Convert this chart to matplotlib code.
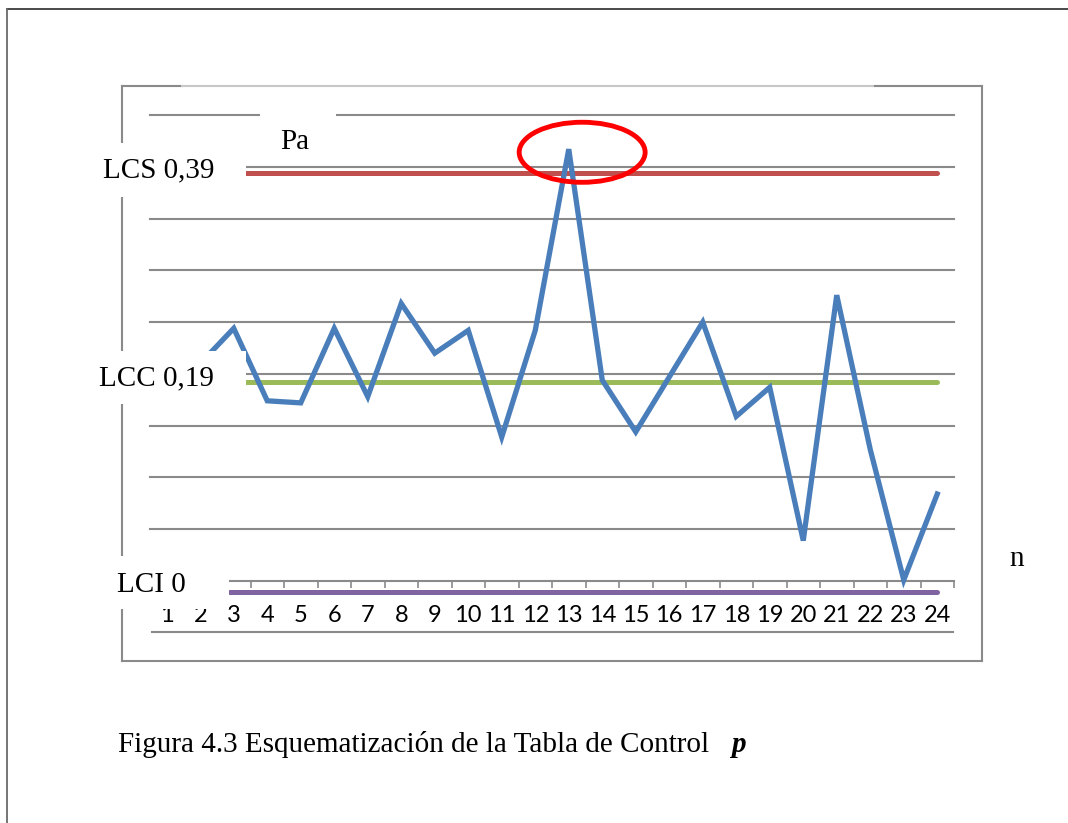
import matplotlib
matplotlib.use('Agg')
import matplotlib.pyplot as plt
from matplotlib.patches import Rectangle, Ellipse
from matplotlib.lines import Line2D
import matplotlib.transforms as mtransforms

# data
muestras = list(range(1, 25))
pa = [0.18, 0.21, 0.244, 0.174, 0.172, 0.244, 0.178, 0.268, 0.220, 0.242,
      0.139, 0.242, 0.417, 0.194, 0.144, 0.197, 0.250, 0.159, 0.187, 0.039,
      0.276, 0.127, 0.001, 0.084]
LCS = 0.39
LCC = 0.19
LCI = 0.0
etiquetas = ['LCS 0,39', 'LCC 0,19', 'LCI 0']

W, H = 1068, 823
fig = plt.figure(figsize=(W / 100, H / 100), dpi=100)
fig.patch.set_facecolor('white')


def fx(x):
    return x / W


def fy(y):
    return 1 - y / H


def fline(x0, y0, x1, y1, color, lw):
    fig.add_artist(Line2D([fx(x0), fx(x1)], [fy(y0), fy(y1)], color=color,
                          lw=lw, transform=fig.transFigure, zorder=1))


# page frame
fline(7, 9, 1068, 9, '#3a3a3a', 1.3)
fline(7, 9, 7, 823, '#6a6a6a', 1.3)

# chart box
fline(122, 86, 182, 86, '#8a8a8a', 1.5)
fline(182, 86, 875, 86, '#c8c8c8', 1.5)
fline(875, 86, 982, 86, '#8a8a8a', 1.5)
fline(982, 86, 982, 661, '#8a8a8a', 1.5)
fline(122, 661, 982, 661, '#8a8a8a', 1.5)
fline(122, 86, 122, 661, '#8a8a8a', 1.5)
# line under the tick labels
fline(152, 632, 953, 632, '#8a8a8a', 1.5)

ax = fig.add_axes([fx(150), fy(581), fx(954) - fx(150), fy(115) - fy(581)])
ax.set_facecolor('none')
ax.set_xlim(0.5, 24.5)
ax.set_ylim(0, 0.45)
ax.set_yticks([0.05 * i for i in range(1, 10)])
ax.yaxis.grid(True, color='#8a8a8a', lw=1.5)
for gl in ax.get_ygridlines():
    gl.set_clip_on(False)
ax.tick_params(axis='y', length=0, labelleft=False)
for s in ['left', 'top', 'right']:
    ax.spines[s].set_visible(False)
ax.spines['bottom'].set_color('#8a8a8a')
ax.spines['bottom'].set_linewidth(1.5)
ax.set_xticks(muestras)
ax.set_xticklabels([str(m) for m in muestras], fontfamily='Lato', fontsize=17)
ax.set_xticks([m - 0.5 for m in muestras] + [24.5], minor=True)
ax.tick_params(axis='x', which='major', length=0, pad=17)
ax.tick_params(axis='x', which='minor', length=5, width=1.2, color='#8a8a8a')
ax.set_axisbelow(True)

# control limits (drawn by hand in the original, a few px off the grid)
def shifted(dy):
    return mtransforms.offset_copy(ax.transData, fig=fig, y=dy, units='dots')


ax.plot([3.37, 24.0], [LCS, LCS], color='#C0504D', lw=3.6,
        solid_capstyle='round', transform=shifted(4), clip_on=False, zorder=3)
ax.plot([3.37, 24.0], [LCC, LCC], color='#9BBB59', lw=3.6,
        solid_capstyle='round', transform=shifted(2), clip_on=False, zorder=3)
ax.plot([2.85, 24.0], [LCI, LCI], color='#8064A2', lw=3.6,
        solid_capstyle='round', transform=shifted(-11), clip_on=False, zorder=3)

ax.plot(muestras, pa, color='#4A7EBB', lw=3.8, zorder=4, clip_on=False,
        solid_joinstyle='miter')

ax.add_patch(Ellipse((13.4, 0.414), 3.76, 0.058, fill=False, edgecolor='#FF0000',
                     lw=3.5, clip_on=False, zorder=5))

# white boxes behind the labels
for (x0, y0, x1, y1) in [(95, 143, 246, 197), (95, 351, 246, 404),
                         (95, 556, 229, 609), (260, 104, 336, 160)]:
    fig.add_artist(Rectangle((fx(x0), fy(y1)), fx(x1) - fx(x0), fy(y0) - fy(y1),
                             transform=fig.transFigure, facecolor='white',
                             edgecolor='none', zorder=10))

serif = 'Liberation Serif'
fig.text(fx(103), fy(170), etiquetas[0], fontfamily=serif, fontsize=21,
         va='center', ha='left', zorder=11)
fig.text(fx(99), fy(378), etiquetas[1], fontfamily=serif, fontsize=21,
         va='center', ha='left', zorder=11)
fig.text(fx(117), fy(585), etiquetas[2], fontfamily=serif, fontsize=21,
         va='center', ha='left', zorder=11)
fig.text(fx(280), fy(142), 'Pa', fontfamily=serif, fontsize=21,
         va='center', ha='left', zorder=11)
fig.text(fx(1009), fy(559), 'n', fontfamily=serif, fontsize=21,
         va='center', ha='left', zorder=11)

fig.text(fx(118), fy(745), 'Figura 4.3 Esquematización de la Tabla de Control',
         fontfamily=serif, fontsize=21, va='center', ha='left')
fig.text(fx(731), fy(745), 'p', fontfamily=serif, fontsize=21, va='center',
         ha='left', fontweight='bold', fontstyle='italic')

fig.savefig('out.png', dpi=100)
